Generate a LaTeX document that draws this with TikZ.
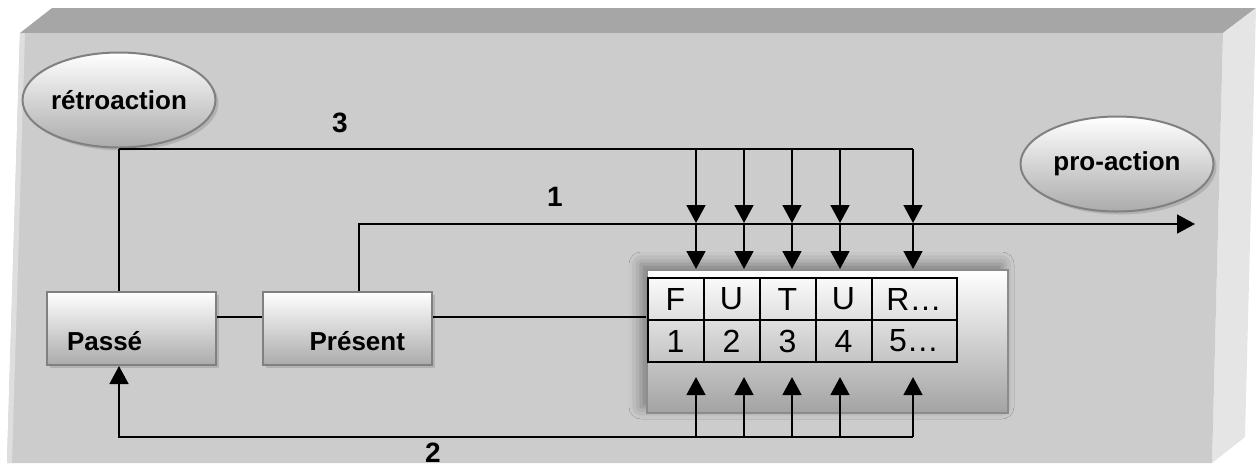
\documentclass[tikz,border=0pt]{standalone}
\usepackage{fontspec}
\setmainfont{Liberation Sans}
\usetikzlibrary{matrix,shapes.geometric,shadows,shadows.blur,arrows.meta}

\begin{document}
\begin{tikzpicture}[x=0.5pt,y=-0.5pt]
  \tikzset{
    bubblestyle/.style={ellipse, draw=black!50, line width=1pt, top color=white, bottom color=black!33,
      minimum width=96.5pt, minimum height=47.5pt, inner sep=0pt, font=\bfseries\fontsize{13}{15}\selectfont,
      drop shadow={shadow xshift=1.5pt, shadow yshift=-1.5pt, fill=black!40}},
    boxstyle/.style={rectangle, draw=black!50, line width=1pt, top color=white, bottom color=black!33,
      minimum width=84.5pt, minimum height=36.5pt, text height=21.5pt, text depth=0pt,
      font=\bfseries\fontsize{13}{15}\selectfont,
      drop shadow={shadow xshift=1.5pt, shadow yshift=-1.5pt, fill=black!40}},
    futurstyle/.style={rectangle, draw=black!45, line width=1pt, top color=white, bottom color=black!36,
      minimum width=180.5pt, minimum height=71.5pt,
      blur shadow={shadow xshift=-3pt, shadow yshift=3pt, shadow blur radius=6pt, shadow opacity=40}},
    cellstyle/.style={draw, line width=1pt, minimum width=28pt, minimum height=21pt, inner sep=0pt,
      font=\fontsize{16}{16}\selectfont, anchor=center},
    widecell/.style={minimum width=42.5pt},
    numstyle/.style={inner sep=0pt, font=\bfseries\fontsize{14}{16}\selectfont},
    linestyle/.style={line width=0.8pt},
    arrowstyle/.style={line width=0.8pt, -{Triangle[width=9.5pt,length=9pt]}}
  }
  \useasboundingbox (0,0) rectangle (1256,468);
  % the slab behind the diagram
  \fill[black!35] (20,33) -- (52,8) -- (1256,8) -- (1223,33) -- cycle;
  \fill[black!10] (1223,33) -- (1256,8) -- (1245,437) -- (1212,463) -- cycle;
  \fill[black!20] (20,33) -- (1223,33) -- (1212,463) -- (7,463) -- cycle;
  \fill[black!13] (20,33) -- (25,33) -- (12,463) -- (7,463) -- cycle;

  \node[bubblestyle] (retro) at (119,100) {rétroaction};
  \node[bubblestyle] (proact) at (1117,164) {pro-action};
  \node[boxstyle, align=left, inner xsep=10pt, text width=64.5pt] (passe) at (131.5,328.5) {Passé};
  \node[boxstyle, align=right, inner xsep=13.5pt, text width=57.5pt] (present) at (347.5,328.5) {Présent};
  \node[futurstyle] (futurbox) at (827.5,341.5) {};
  % the table inside the box
  \matrix (futur) [matrix of nodes, column sep=-1pt, row sep=-1pt, nodes={cellstyle}] at (802,320) {
    F & U & T & U & |[widecell]| R… \\
    1 & 2 & 3 & 4 & |[widecell]| 5… \\
  };

  \node[numstyle] (num3) at (340,123) {3};
  \node[numstyle] (num1) at (555,197) {1};
  \node[numstyle] (num2) at (433,453) {2};

  \foreach \x [count=\i] in {696,744,792,840,913} {
    \coordinate (h3-\i) at (\x,149);
    \coordinate (h1-\i) at (\x,223);
    \coordinate (h2-\i) at (\x,437);
  }
  \coordinate (end1) at (1195,224);

  % line 3
  \draw[linestyle] (retro.south) -- (retro.south |- passe.north);
  \draw[linestyle] (retro.south |- h3-5) -- (h3-5);
  % line 1
  \draw[arrowstyle] ([xshift=5.75pt]present.north) |- (end1);
  % line 2
  \draw[arrowstyle] (h2-5) -| (retro.south |- passe.south);
  \foreach \i in {1,...,5} {
    \draw[arrowstyle] (h3-\i) -- (h1-\i);
    \draw[arrowstyle] (h1-\i) -- (h1-\i |- futurbox.north);
    \draw[arrowstyle, shorten >=3.5pt] (h2-\i) -- (h2-\i |- futur.south);
  }
  \draw[linestyle] ([yshift=5.75pt]passe.east) -- ([yshift=5.75pt]present.west);
  \draw[linestyle] ([yshift=5.75pt]present.east) -- ([yshift=5.75pt]present.east -| futurbox.west);
\end{tikzpicture}
\end{document}
